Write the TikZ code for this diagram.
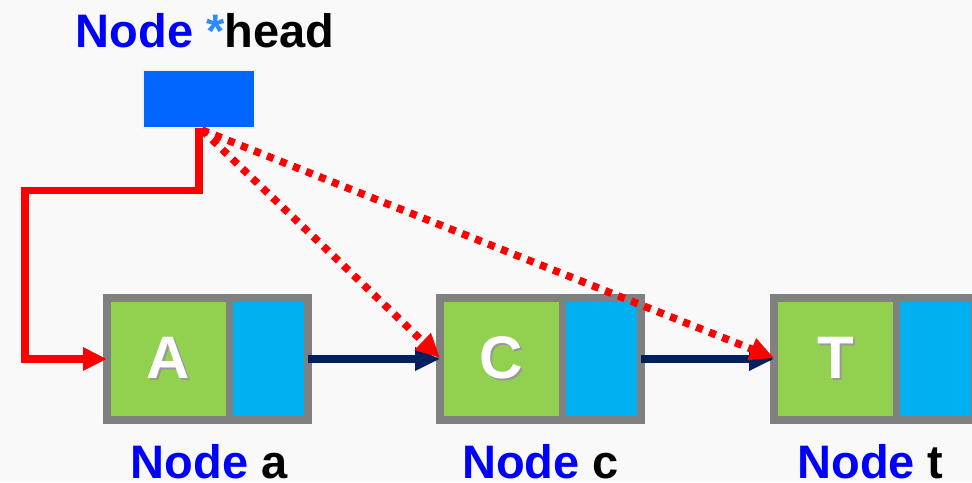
\documentclass[tikz,border=0pt]{standalone}
\usepackage{fontspec}
\setmainfont{Liberation Sans}
\usetikzlibrary{arrows.meta,calc}

\definecolor{bgray}{HTML}{F9F9F9}
\definecolor{headblue}{HTML}{0066FF}
\definecolor{textblue}{HTML}{0000FF}
\definecolor{starblue}{HTML}{2A8CFF}
\definecolor{cellgreen}{HTML}{92D050}
\definecolor{cellblue}{HTML}{00B0F0}
\definecolor{framegray}{HTML}{808080}
\definecolor{linknavy}{HTML}{002060}

% white letter with a soft drop shadow
\newcommand\shadowtext[1]{\rlap{\kern2pt\raisebox{-2pt}{\color{black!40}#1}}\color{white}#1}

\begin{document}
\begin{tikzpicture}[x=1pt,y=-1pt,
    listframe/.style={fill=framegray,minimum width=209pt,minimum height=130pt,inner sep=0pt,outer sep=0pt},
    datacell/.style={fill=cellgreen,minimum width=115pt,minimum height=114pt,inner sep=0pt,font=\fontsize{60}{60}\selectfont\bfseries},
    ptrcell/.style={fill=cellblue,minimum width=71pt,minimum height=114pt,inner sep=0pt},
    headbox/.style={fill=headblue,draw=black!5,line width=2pt,minimum width=112pt,minimum height=58pt,inner sep=0pt,outer sep=0pt},
    namelabel/.style={font=\fontsize{47}{47}\selectfont\bfseries,anchor=base,inner sep=0pt},
    link/.style={draw=linknavy,line width=8pt,-{Triangle[length=25pt,width=22pt]}},
    headlink/.style={draw=red,line width=7.5pt,-{Triangle[length=24pt,width=22pt]}},
    newlink/.style={headlink,dash pattern=on 7pt off 7pt}]

    \useasboundingbox[fill=bgray] (0,0) rectangle (972,482);

    % head pointer
    \node[headbox] (head) at (199,99) {};
    \node[namelabel] (head-label) at (205,47) {\textcolor{textblue}{Node} \textcolor{starblue}{*}head};

    % list nodes
    \node[listframe] (a) at (207.5,359) {};
    \node[datacell] (a-data) at (168.5,359) {\shadowtext{A}};
    \node[ptrcell] (a-next) at (268.5,359) {};

    \node[listframe] (c) at (540.5,359) {};
    \node[datacell] (c-data) at (501.5,359) {\shadowtext{C}};
    \node[ptrcell] (c-next) at (601.5,359) {};

    \node[listframe] (t) at (874.5,359) {};
    \node[datacell] (t-data) at (835.5,359) {\shadowtext{T}};
    \node[ptrcell] (t-next) at (935.5,359) {};

    \node[namelabel] (a-label) at ($(a.south)+(1.5,54)$) {\textcolor{textblue}{Node} a};
    \node[namelabel] (c-label) at ($(c.south)+(0,54)$) {\textcolor{textblue}{Node} c};
    \node[namelabel] (t-label) at ($(t.south)+(-4,54)$) {\textcolor{textblue}{Node} t};

    % next links
    \draw[link] ($(a.east)+(-4,0)$) -- ($(c.west)+(4,0)$);
    \draw[link] ($(c.east)+(-4,0)$) -- ($(t.west)+(4,0)$);

    % head links
    \coordinate (bend) at (25,190.5);
    \draw[headlink] (head.south) |- (bend) |- ($(a.west)+(4,0)$);
    \draw[newlink] ($(head.south)+(3,2)$) -- ($(c.west)+(4,-1)$);
    \draw[newlink] ($(head.south)+(3,2)$) -- ($(t.west)+(4,-1)$);
\end{tikzpicture}
\end{document}
